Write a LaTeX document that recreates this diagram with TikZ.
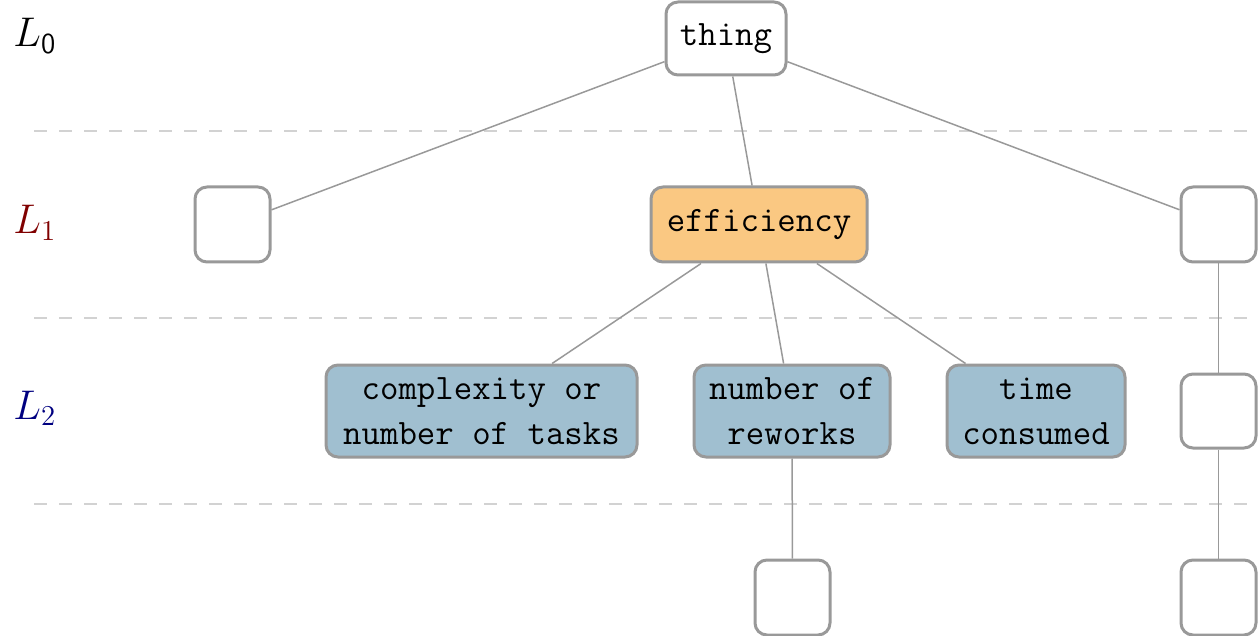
\documentclass[tikz,border=0pt]{standalone}
\usepackage{fontspec}
\begin{document}
\begin{tikzpicture}[x=0.5pt,y=-0.5pt,
  box/.style={draw=gray!80, line width=1.5pt, rounded corners=6pt, inner sep=0pt,
    font=\ttfamily\fontsize{17.9}{22.5}\selectfont, align=center, fill=white},
  emptybox/.style={box, minimum width=37.5pt, minimum height=37.5pt},
  orangebox/.style={box, fill=orange1},
  bluebox/.style={box, fill=blue1, minimum height=46pt},
  edge/.style={draw=gray!80, line width=0.75pt},
  levelline/.style={draw=gray!35, line width=1pt, dash pattern=on 6.5pt off 6pt},
  lvl/.style={anchor=base west, inner sep=0pt, font=\fontsize{20.5}{24}\selectfont}
]
\definecolor{orange1}{RGB}{250,200,130}
\definecolor{blue1}{RGB}{160,191,208}
\definecolor{lvlred}{RGB}{128,0,0}
\definecolor{lvlblue}{RGB}{0,0,128}
\useasboundingbox (0,0) rectangle (1258,636);

% level lines
\coordinate (d1a) at (34,131); \coordinate (d1b) at (1258,131);
\coordinate (d2a) at (34,318); \coordinate (d2b) at (1258,318);
\coordinate (d3a) at (34,504); \coordinate (d3b) at (1258,504);
\draw[levelline] (d1a) -- (d1b);
\draw[levelline] (d2a) -- (d2b);
\draw[levelline] (d3a) -- (d3b);

% level labels
\node[lvl] (l0) at (13,47) {$L_{\hbox{\sffamily\fontsize{14.5}{15}\selectfont 0}}$};
\node[lvl, text=lvlred] (l1) at (13,234) {$L_1$};
\node[lvl, text=lvlblue] (l2) at (13,419) {$L_2$};

% nodes
\node[box, minimum width=60pt, minimum height=36.5pt] (thing) at (726,38.5) {thing};
\node[emptybox] (e1) at (232.5,224.5) {};
\node[orangebox, minimum width=108pt, minimum height=37.5pt] (eff) at (759,224.5) {efficiency};
\node[emptybox] (e2) at (1218.5,224.5) {};
\node[bluebox, minimum width=155.5pt] (cx) at (481.5,411) {complexity or\\number of tasks};
\node[bluebox, minimum width=98pt] (rw) at (792,411) {number of\\reworks};
\node[bluebox, minimum width=89pt] (tc) at (1036,411) {time\\consumed};
\node[emptybox, minimum height=37pt] (e3) at (1218.5,411) {};
\node[emptybox] (e4) at (792.5,597.5) {};
\node[emptybox] (e5) at (1218.5,597.5) {};

% edges
\path[edge] (thing) -- (e1);
\path[edge] (thing) -- (eff);
\path[edge] (thing) -- (e2);
\path[edge] (eff) -- (cx);
\path[edge] (eff) -- (rw);
\path[edge] (eff) -- (tc);
\path[edge] (rw) -- (e4);
\path[edge] (e2) -- (e3);
\path[edge] (e3) -- (e5);
\end{tikzpicture}
\end{document}
